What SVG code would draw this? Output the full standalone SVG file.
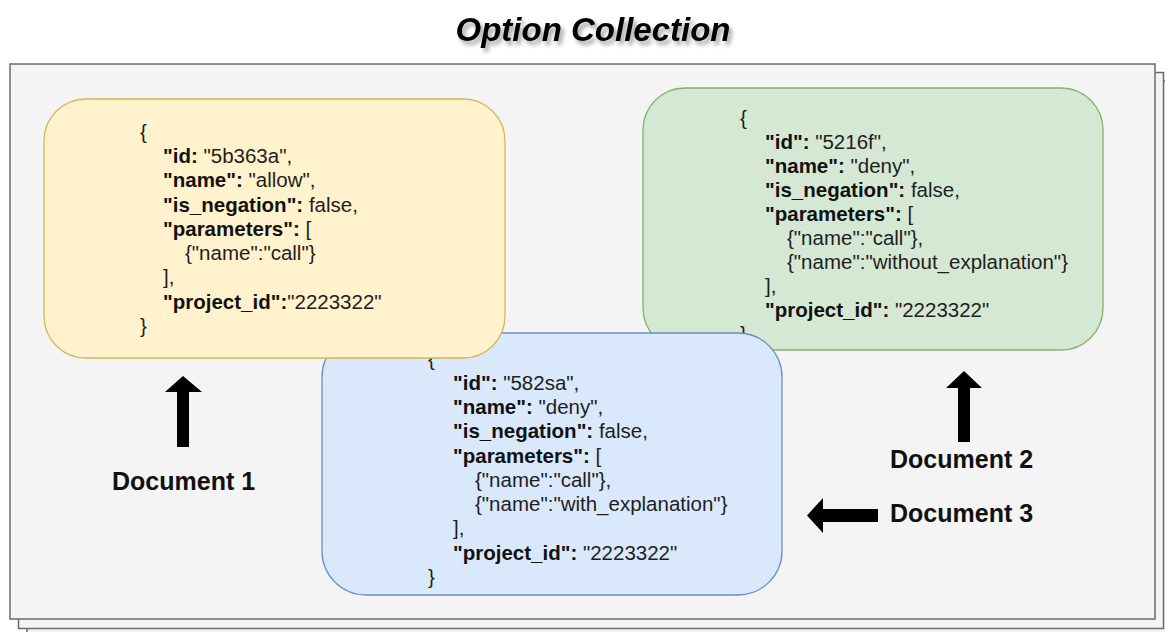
<svg xmlns="http://www.w3.org/2000/svg" width="1165" height="632" viewBox="0 0 1165 632">
  <defs>
    <filter id="titleShadow" x="-10%" y="-40%" width="120%" height="180%">
      <feGaussianBlur in="SourceAlpha" stdDeviation="2"/>
      <feOffset dx="3" dy="4" result="b"/>
      <feFlood flood-color="#000" flood-opacity="0.35"/>
      <feComposite in2="b" operator="in"/>
      <feMerge>
        <feMergeNode/>
        <feMergeNode in="SourceGraphic"/>
      </feMerge>
    </filter>
  </defs>
  <style>
    .page { fill: #f4f4f4; stroke: #6b6b6b; stroke-width: 1.5; }
    .doc-yellow { fill: #fff2cc; stroke: #d6b656; stroke-width: 1.3; }
    .doc-green { fill: #d5e8d4; stroke: #82b366; stroke-width: 1.3; }
    .doc-blue { fill: #dae8fc; stroke: #6c8ebf; stroke-width: 1.3; }
    .json { font-family: "Liberation Sans", Arial, sans-serif; font-size: 20.5px; fill: #1e1e1e; }
    .k { font-weight: bold; fill: #111; }
    .label { font-family: "Liberation Sans", Arial, sans-serif; font-size: 25px; font-weight: bold; fill: #111; }
    .title { font-family: "Liberation Sans", Arial, sans-serif; font-size: 33px; font-weight: bold; font-style: italic; fill: #000; }
    .arrow { fill: #000; }
  </style>

  <rect width="1165" height="632" fill="#ffffff"/>

  <!-- stacked collection pages -->
  <g id="collection">
    <rect class="page" x="27" y="81" width="1145" height="556"/>
    <rect class="page" x="18.5" y="72.5" width="1145" height="556"/>
    <rect class="page" x="10" y="64" width="1145" height="555"/>
  </g>

  <text class="title" x="593" y="41" text-anchor="middle" filter="url(#titleShadow)">Option Collection</text>

  <!-- Document 2 -->
  <g id="doc2">
    <rect class="doc-green" x="643" y="88" width="460" height="262" rx="42" ry="42"/>
    <text class="json" x="740" y="125">{</text>
    <text class="json" x="765" y="149"><tspan class="k">"id":</tspan> "5216f",</text>
    <text class="json" x="765" y="173"><tspan class="k">"name":</tspan> "deny",</text>
    <text class="json" x="765" y="197"><tspan class="k">"is_negation":</tspan> false,</text>
    <text class="json" x="765" y="221"><tspan class="k">"parameters":</tspan> [</text>
    <text class="json" x="787" y="245">{"name":"call"},</text>
    <text class="json" x="787" y="269">{"name":"without_explanation"}</text>
    <text class="json" x="765" y="293">],</text>
    <text class="json" x="765" y="317"><tspan class="k">"project_id":</tspan> "2223322"</text>
    <text class="json" x="740" y="341">}</text>
  </g>

  <!-- Document 3 -->
  <g id="doc3">
    <rect class="doc-blue" x="322" y="333" width="460" height="262" rx="44" ry="44"/>
    <text class="json" x="428" y="366">{</text>
    <text class="json" x="453" y="390"><tspan class="k">"id":</tspan> "582sa",</text>
    <text class="json" x="453" y="414"><tspan class="k">"name":</tspan> "deny",</text>
    <text class="json" x="453" y="438"><tspan class="k">"is_negation":</tspan> false,</text>
    <text class="json" x="453" y="463"><tspan class="k">"parameters":</tspan> [</text>
    <text class="json" x="475" y="487">{"name":"call"},</text>
    <text class="json" x="475" y="511">{"name":"with_explanation"}</text>
    <text class="json" x="453" y="535">],</text>
    <text class="json" x="453" y="560"><tspan class="k">"project_id":</tspan> "2223322"</text>
    <text class="json" x="428" y="584">}</text>
  </g>

  <!-- Document 1 -->
  <g id="doc1">
    <rect class="doc-yellow" x="44" y="99" width="461" height="259" rx="42" ry="42"/>
    <text class="json" x="140" y="139">{</text>
    <text class="json" x="163" y="163"><tspan class="k">"id:</tspan> "5b363a",</text>
    <text class="json" x="163" y="187"><tspan class="k">"name":</tspan> "allow",</text>
    <text class="json" x="163" y="212"><tspan class="k">"is_negation":</tspan> false,</text>
    <text class="json" x="163" y="236"><tspan class="k">"parameters":</tspan> [</text>
    <text class="json" x="185" y="260">{"name":"call"}</text>
    <text class="json" x="163" y="284">],</text>
    <text class="json" x="163" y="309"><tspan class="k">"project_id":</tspan>"2223322"</text>
    <text class="json" x="140" y="333">}</text>
  </g>

  <!-- pointer arrows -->
  <g id="connectors">
    <path class="arrow" d="M177,447 L177,392 L165,392 L183,376 L202,392 L189,392 L189,447 Z"/>
    <path class="arrow" d="M958,442 L958,388 L946,388 L964,371 L982,388 L970,388 L970,442 Z"/>
    <path class="arrow" d="M878,509 L823,509 L823,498 L807,515.5 L823,533 L823,522 L878,522 Z"/>
  </g>

  <g id="label-doc1"><text class="label" x="112" y="490">Document 1</text></g>
  <g id="label-doc2"><text class="label" x="890" y="468">Document 2</text></g>
  <g id="label-doc3"><text class="label" x="890" y="522">Document 3</text></g>
</svg>
